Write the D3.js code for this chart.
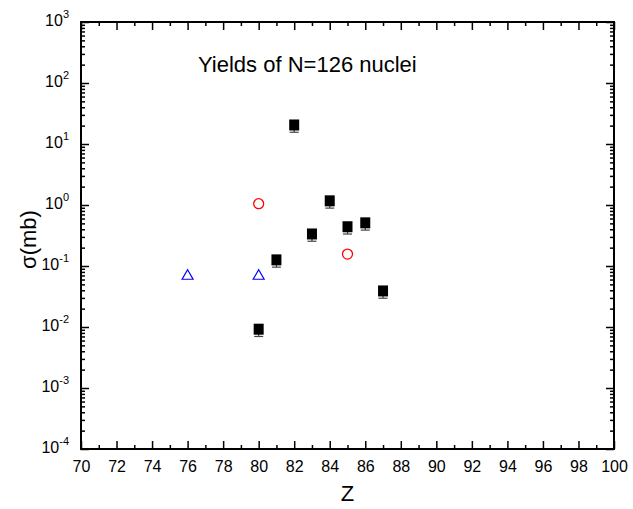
<!DOCTYPE html>
<html>
<head>
<meta charset="utf-8">
<script src="https://cdn.jsdelivr.net/npm/d3@7"></script>
<style>
  body { margin: 0; background: #fff; }
  text { font-family: "Liberation Sans", Arial, sans-serif; }
</style>
</head>
<body>
<div id="chart"></div>
<script>
// Data
const squareZ = [80, 81, 82, 83, 84, 85, 86, 87];
const squareSigma = [0.0092, 0.126, 20.5, 0.335, 1.17, 0.44, 0.51, 0.039];
const circleZ = [80, 85];
const circleSigma = [1.05, 0.157];
const triangleZ = [76, 80];
const triangleSigma = [0.071, 0.071];
const xTicks = [70, 72, 74, 76, 78, 80, 82, 84, 86, 88, 90, 92, 94, 96, 98, 100];
const yExponents = [-4, -3, -2, -1, 0, 1, 2, 3];

const width = 633, height = 509;
const margin = { top: 22, right: 19, bottom: 60, left: 81 };
const plotW = width - margin.left - margin.right;
const plotH = height - margin.top - margin.bottom;

const svg = d3.select("#chart").append("svg")
  .attr("width", width).attr("height", height);

const x = d3.scaleLinear().domain([70, 100]).range([0, plotW]);
const y = d3.scaleLog().domain([1e-4, 1e3]).range([plotH, 0]);

const g = svg.append("g").attr("transform", `translate(${margin.left},${margin.top})`);

// minor ticks
const xMinor = d3.range(71, 100, 2);
const yMinor = [];
yExponents.slice(0, -1).forEach(e => {
  for (let k = 2; k <= 9; k++) yMinor.push(k * Math.pow(10, e));
});

function styleAxis(sel) {
  sel.select(".domain").remove();
  sel.selectAll(".tick line").attr("stroke", "#000").attr("stroke-width", 1.5);
}

// bottom
g.append("g").attr("transform", `translate(0,${plotH})`)
  .call(d3.axisBottom(x).tickValues(xTicks).tickSize(-8).tickPadding(12).tickFormat(d3.format("d")))
  .call(styleAxis)
  .call(a => a.selectAll("text").attr("font-size", 16).attr("fill", "#000"));
g.append("g").attr("transform", `translate(0,${plotH})`)
  .call(d3.axisBottom(x).tickValues(xMinor).tickSize(-4).tickFormat(""))
  .call(styleAxis);
// top
g.append("g")
  .call(d3.axisTop(x).tickValues(xTicks).tickSize(-8).tickFormat(""))
  .call(styleAxis);
g.append("g")
  .call(d3.axisTop(x).tickValues(xMinor).tickSize(-4).tickFormat(""))
  .call(styleAxis);

// left
const yMajor = yExponents.map(e => Math.pow(10, e));
const leftAxis = g.append("g")
  .call(d3.axisLeft(y).tickValues(yMajor).tickSize(-8).tickPadding(12).tickFormat(""))
  .call(styleAxis);
leftAxis.selectAll(".tick text").remove();
leftAxis.selectAll(".tick").append("text")
  .attr("x", -12).attr("dy", "0.36em").attr("text-anchor", "end").attr("fill", "#000")
  .each(function(d) {
    const e = Math.round(Math.log10(d));
    const t = d3.select(this);
    t.append("tspan").attr("font-size", 16).text("10");
    t.append("tspan").attr("font-size", 11).attr("dy", "-0.75em").text(e);
  });
g.append("g")
  .call(d3.axisLeft(y).tickValues(yMinor).tickSize(-4).tickFormat(""))
  .call(styleAxis);
// right
g.append("g").attr("transform", `translate(${plotW},0)`)
  .call(d3.axisRight(y).tickValues(yMajor).tickSize(-8).tickFormat(""))
  .call(styleAxis);
g.append("g").attr("transform", `translate(${plotW},0)`)
  .call(d3.axisRight(y).tickValues(yMinor).tickSize(-4).tickFormat(""))
  .call(styleAxis);

// frame
g.append("rect").attr("width", plotW).attr("height", plotH)
  .attr("fill", "none").attr("stroke", "#000").attr("stroke-width", 2);

// error bars for squares (only the lower cap shows below the marker)
const sq = squareZ.map((z, i) => [z, squareSigma[i]]);
const err = g.append("g").attr("stroke", "#444").attr("stroke-width", 1.2);
sq.forEach(([z, s]) => {
  const cx = x(z), lo = y(s * 0.76), hi = y(s * 1.2);
  err.append("line").attr("x1", cx).attr("x2", cx).attr("y1", lo).attr("y2", hi);
  err.append("line").attr("x1", cx - 4.5).attr("x2", cx + 4.5).attr("y1", lo).attr("y2", lo);
});

// squares
g.selectAll("rect.sq").data(sq).join("rect").attr("class", "sq")
  .attr("x", d => x(d[0]) - 5).attr("y", d => y(d[1]) - 5.5)
  .attr("width", 10).attr("height", 11).attr("fill", "#000");

// circles
g.selectAll("circle.ci").data(circleZ.map((z, i) => [z, circleSigma[i]])).join("circle")
  .attr("class", "ci")
  .attr("cx", d => x(d[0])).attr("cy", d => y(d[1])).attr("r", 5)
  .attr("fill", "none").attr("stroke", "#ff0000").attr("stroke-width", 1.3);

// triangles
const tri = d3.symbol().type(d3.symbolTriangle).size(52);
g.selectAll("path.tr").data(triangleZ.map((z, i) => [z, triangleSigma[i]])).join("path")
  .attr("class", "tr")
  .attr("transform", d => `translate(${x(d[0])},${y(d[1]) + 1})`)
  .attr("d", tri)
  .attr("fill", "none").attr("stroke", "#0000ff").attr("stroke-width", 1.2);

// title & labels
svg.append("text").attr("x", 198).attr("y", 72).attr("font-size", 22).attr("fill", "#000")
  .text("Yields of N=126 nuclei");
svg.append("text").attr("x", margin.left + plotW / 2).attr("y", 501)
  .attr("text-anchor", "middle").attr("font-size", 22).attr("fill", "#000").text("Z");
svg.append("text")
  .attr("transform", `translate(36,${margin.top + plotH / 2 + 4}) rotate(-90)`)
  .attr("text-anchor", "middle").attr("font-size", 22).attr("fill", "#000").text("σ(mb)");
</script>
</body>
</html>
